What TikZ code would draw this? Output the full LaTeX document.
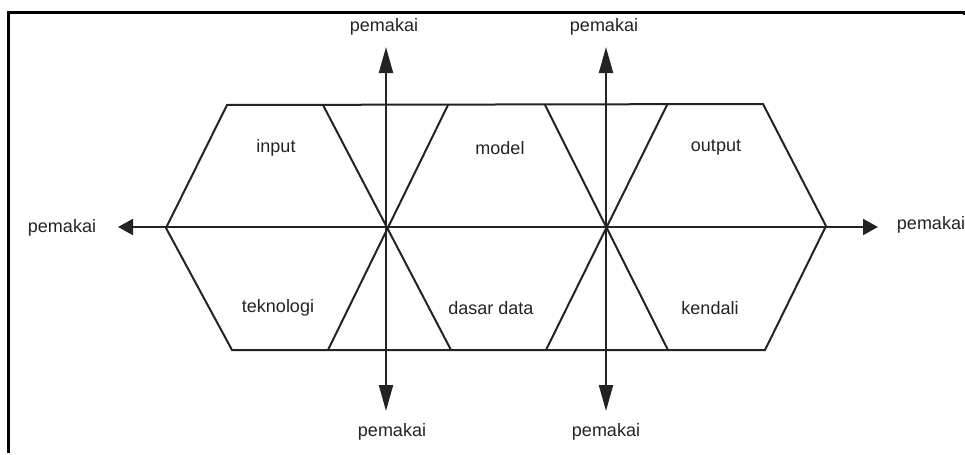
\documentclass[tikz,border=0pt]{standalone}
\usepackage{fontspec}
\setmainfont{Liberation Sans}
\usepackage{tikz}
\usetikzlibrary{positioning,arrows.meta}
\usepackage{xcolor}
\definecolor{ink}{RGB}{35,35,35}

\tikzset{
  lbl/.style={font=\fontsize{9}{11}\selectfont,text=ink,inner sep=1pt},
  edge/.style={draw=ink,line width=1pt},
  harr/.style={edge,-{Triangle[length=7.5pt,width=8pt]}},
  varr/.style={edge,-{Triangle[length=13pt,width=7pt]}},
}

\begin{document}
\begin{tikzpicture}[x=0.5pt,y=-0.5pt]
\useasboundingbox (0,0) rectangle (965,455);
% frame of the scan
\draw[line width=1.5pt] (8,453) -- (8,12) -- (964,12) -- (964,15);

% hexagon corners
\coordinate (tl) at (227,105);
\coordinate (tr) at (763,104);
\coordinate (rv) at (826,226);
\coordinate (br) at (765,350);
\coordinate (bl) at (232,350);
\coordinate (lv) at (166,228);
\draw[edge] (tl) -- (tr) -- (rv) -- (br) -- (bl) -- (lv) -- cycle;

% crossing lines
\coordinate (a1) at (323,105); \coordinate (a2) at (451,350);
\coordinate (b1) at (448,105); \coordinate (b2) at (328,350);
\coordinate (c1) at (545,105); \coordinate (c2) at (668,350);
\coordinate (d1) at (667,105); \coordinate (d2) at (546,350);
\draw[edge] (a1) -- (a2);
\draw[edge] (b1) -- (b2);
\draw[edge] (c1) -- (c2);
\draw[edge] (d1) -- (d2);

% parts
\node[lbl] (input) at (276,148) {input};
\node[lbl] (model) at (500,148) {model};
\node[lbl] (output) at (716,148) {output};
\node[lbl] (tekno) at (278,308) {teknologi};
\node[lbl] (dasar) at (491,308) {dasar data};
\node[lbl] (kendali) at (710,308) {kendali};

% users
\node[lbl] (pl) at (62,228) {pemakai};
\node[lbl] (pr) at (931,225) {pemakai};
\node[lbl] (pt1) at (384,27) {pemakai};
\node[lbl] (pb1) at (392,432) {pemakai};
\node[lbl] (pt2) at (604,27) {pemakai};
\node[lbl] (pb2) at (606,432) {pemakai};

\coordinate (hl) at (118,227);
\coordinate (hr) at (878,227);
\coordinate (mid) at (500,227);
\coordinate (x1) at (386,228);
\coordinate (x2) at (606,228);
\coordinate (t1) at (386,47);
\coordinate (u1) at (386,411);
\coordinate (t2) at (606,47);
\coordinate (u2) at (606,411);

\draw[harr] (mid) -- (hl);
\draw[harr] (mid) -- (hr);
\draw[varr] (x1) -- (t1);
\draw[varr] (x1) -- (u1);
\draw[varr] (x2) -- (t2);
\draw[varr] (x2) -- (u2);
\end{tikzpicture}
\end{document}
